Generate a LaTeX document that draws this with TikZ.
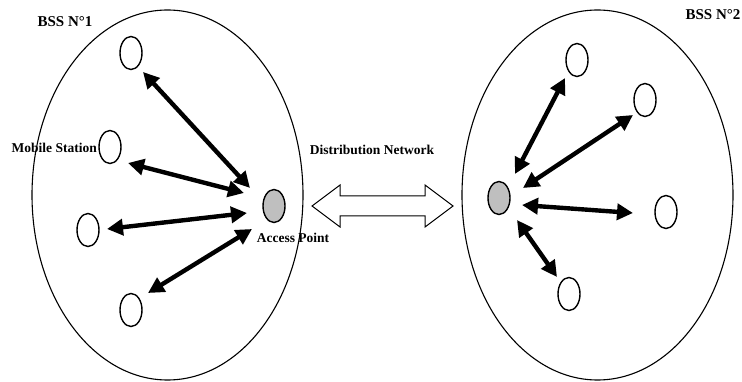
\documentclass[tikz,border=0pt]{standalone}
\usepackage{fontspec}
\setmainfont{Liberation Serif}
\usetikzlibrary{arrows.meta,shapes.geometric}
\tikzset{
  bss/.style={draw, ellipse, line width=1.1pt, minimum width=271pt, minimum height=370pt, inner sep=0pt},
  sta/.style={draw, ellipse, line width=1.4pt, fill=white, minimum width=22pt, minimum height=33pt, inner sep=0pt},
  apn/.style={sta, fill=black!25},
  link/.style={line width=4.4pt, {Triangle[length=16pt,width=16pt]}-{Triangle[length=16pt,width=16pt]}},
  lbl/.style={font=\bfseries\fontsize{13.5}{15}\selectfont, inner sep=0pt},
  big/.style={font=\bfseries\fontsize{15}{17}\selectfont, inner sep=0pt}
}
\begin{document}
\begin{tikzpicture}[x=1pt,y=-1pt]
\useasboundingbox (0,0) rectangle (742,382);
% cells
\node[bss] (bss1) at (167.5,195) {};
\node[bss] (bss2) at (597.5,195) {};
% left stations
\node[sta] (s1) at (131,53) {};
\node[sta] (s2) at (110,147) {};
\node[sta] (s3) at (88,230) {};
\node[sta] (s4) at (131,310) {};
\node[apn] (ap1) at (274,206) {};
% right stations
\node[apn] (ap2) at (499,198) {};
\node[sta] (s5) at (577,60) {};
\node[sta] (s6) at (645,100) {};
\node[sta] (s7) at (666,212) {};
\node[sta] (s8) at (569,294) {};
% links left
\draw[link] ([shift={(12,19)}]s1.center) -- ([shift={(-24,-18)}]ap1.center);
\draw[link] ([shift={(18,16)}]s2.center) -- ([shift={(-30,-13)}]ap1.center);
\draw[link] ([shift={(19,-1)}]s3.center) -- ([shift={(-27,7)}]ap1.center);
\draw[link] ([shift={(17,-17)}]s4.center) -- ([shift={(-22,23)}]ap1.center);
% links right
\draw[link] ([shift={(16,-24)}]ap2.center) -- ([shift={(-12,18)}]s5.center);
\draw[link] ([shift={(24,-10)}]ap2.center) -- ([shift={(-12,15)}]s6.center);
\draw[link] ([shift={(23,7)}]ap2.center) -- ([shift={(-33,1)}]s7.center);
\draw[link] ([shift={(18,22)}]ap2.center) -- ([shift={(-12,-17)}]s8.center);
% distribution network double arrow
\draw[line width=1pt, fill=white, line join=miter]
  (312,206) -- (340,185) -- (340,196) -- (425,196) -- (425,185) -- (453,206)
  -- (425,227) -- (425,216) -- (340,216) -- (340,227) -- cycle;
% labels
\node[big] (t1) at (65,22) {BSS N°1};
\node[big] (t2) at (713,15) {BSS N°2};
\node[lbl, anchor=east] (tms) at (97,148) {Mobile Station};
\node[lbl] (tap) at (293,238) {Access Point};
\node[lbl] (tdn) at (372,150) {Distribution Network};
\end{tikzpicture}
\end{document}
